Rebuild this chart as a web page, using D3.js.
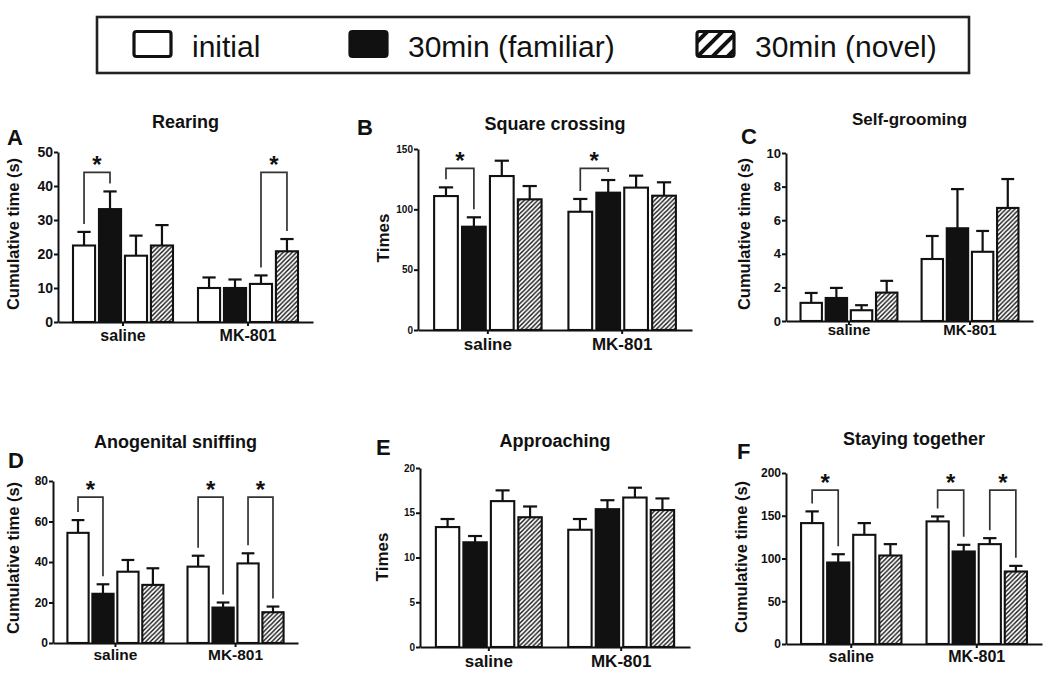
<!DOCTYPE html>
<html>
<head>
<meta charset="utf-8">
<script src="https://cdn.jsdelivr.net/npm/d3@7/dist/d3.min.js"></script>
<style>
  html, body { margin: 0; padding: 0; background: #fff; }
  svg { display: block; font-family: "Liberation Sans", Arial, sans-serif; }
</style>
</head>
<body>
<svg id="chart" width="1050" height="677"></svg>
<script>
// ---------------- DATA ----------------
const groups = ["saline", "MK-801"];
const seriesKeys = ["initial (familiar)", "30min (familiar)", "initial (novel)", "30min (novel)"];
const legendLabels = ["initial", "30min (familiar)", "30min (novel)"];

// A: Rearing
const rearingMean = [[22.5, 33.2, 19.5, 22.5], [10.0, 10.0, 11.2, 20.8]];
const rearingSem  = [[4.0, 5.2, 5.9, 6.0], [3.1, 2.5, 2.5, 3.6]];
const rearingTicks = [0, 10, 20, 30, 40, 50];
const rearingBrackets = [[0, 0, 1, 44], [1, 2, 3, 44]];

// B: Square crossing
const crossingMean = [[111, 85.6, 127.6, 108.3], [98, 113.8, 118, 111.3]];
const crossingSem  = [[7.2, 7.8, 12.7, 11.0], [10.6, 10.5, 9.9, 11.1]];
const crossingTicks = [0, 50, 100, 150];
const crossingBrackets = [[0, 0, 1, 134], [1, 0, 1, 134]];

// C: Self-grooming
const groomingMean = [[1.08, 1.37, 0.64, 1.69], [3.69, 5.52, 4.12, 6.73]];
const groomingSem  = [[0.59, 0.60, 0.30, 0.70], [1.37, 2.33, 1.24, 1.72]];
const groomingTicks = [0, 2, 4, 6, 8, 10];
const groomingBrackets = [];

// D: Anogenital sniffing
const sniffingMean = [[54.4, 24.3, 35.2, 28.7], [37.7, 17.5, 39.3, 15.2]];
const sniffingSem  = [[6.3, 4.7, 5.8, 8.2], [5.4, 2.5, 5.0, 2.8]];
const sniffingTicks = [0, 20, 40, 60, 80];
const sniffingBrackets = [[0, 0, 1, 72], [1, 0, 1, 72], [1, 2, 3, 72]];

// E: Approaching
const approachMean = [[13.4, 11.7, 16.3, 14.5], [13.1, 15.4, 16.7, 15.3]];
const approachSem  = [[0.9, 0.7, 1.2, 1.2], [1.2, 1.0, 1.1, 1.3]];
const approachTicks = [0, 5, 10, 15, 20];
const approachBrackets = [];

// F: Staying together
const togetherMean = [[141.4, 95.3, 127.7, 103.5], [143.4, 108.2, 116.8, 84.8]];
const togetherSem  = [[13.7, 9.7, 13.7, 13.3], [5.8, 7.8, 7.0, 6.6]];
const togetherTicks = [0, 50, 100, 150, 200];
const togetherBrackets = [[0, 0, 1, 180], [1, 0, 1, 180], [1, 2, 3, 180]];

// ---------------- LAYOUT ----------------
const panels = [
  { letter: "A", title: "Rearing", yLabel: "Cumulative time (s)", mean: rearingMean, sem: rearingSem, ticks: rearingTicks, brackets: rearingBrackets,
    x0: 58, x1: 313, yTop: 152, yBot: 322, titleY: 128, titleSize: 18, letterX: 7, letterY: 145,
    yLabX: 19, yLabY: 234, yLabSize: 16.5, tickSize: 14, catSize: 16, catY: 341 },
  { letter: "B", title: "Square crossing", yLabel: "Times", mean: crossingMean, sem: crossingSem, ticks: crossingTicks, brackets: crossingBrackets,
    x0: 418, x1: 692, yTop: 149, yBot: 330, titleY: 130, titleSize: 18, letterX: 357, letterY: 135,
    yLabX: 389, yLabY: 238, yLabSize: 17, tickSize: 10, catSize: 17, catY: 350 },
  { letter: "C", title: "Self-grooming", yLabel: "Cumulative time (s)", mean: groomingMean, sem: groomingSem, ticks: groomingTicks, brackets: groomingBrackets,
    x0: 786, x1: 1033, yTop: 153, yBot: 321, titleY: 125, titleSize: 17, letterX: 741, letterY: 144,
    yLabX: 750, yLabY: 234, yLabSize: 16.5, tickSize: 13, catSize: 15, catY: 335 },
  { letter: "D", title: "Anogenital sniffing", yLabel: "Cumulative time (s)", mean: sniffingMean, sem: sniffingSem, ticks: sniffingTicks, brackets: sniffingBrackets,
    x0: 53, x1: 298, yTop: 481, yBot: 643, titleY: 448, titleSize: 18, letterX: 8, letterY: 468,
    yLabX: 19, yLabY: 558, yLabSize: 16.5, tickSize: 12, catSize: 15.5, catY: 660 },
  { letter: "E", title: "Approaching", yLabel: "Times", mean: approachMean, sem: approachSem, ticks: approachTicks, brackets: approachBrackets,
    x0: 420, x1: 690, yTop: 468, yBot: 647, titleY: 447, titleSize: 18, letterX: 376, letterY: 455,
    yLabX: 388, yLabY: 557, yLabSize: 17, tickSize: 10, catSize: 17, catY: 667 },
  { letter: "F", title: "Staying together", yLabel: "Cumulative time (s)", mean: togetherMean, sem: togetherSem, ticks: togetherTicks, brackets: togetherBrackets,
    x0: 786, x1: 1042, yTop: 473, yBot: 644, titleY: 445, titleSize: 18, letterX: 737, letterY: 459,
    yLabX: 747, yLabY: 557, yLabSize: 16.5, tickSize: 12, catSize: 16, catY: 662 }
];

const ink = "#111";
const svg = d3.select("#chart");
const defs = svg.append("defs");

// hatch pattern for bars
const hp = defs.append("pattern").attr("id", "hatch").attr("patternUnits", "userSpaceOnUse")
  .attr("width", 4.5).attr("height", 4.5);
hp.append("rect").attr("width", 4.5).attr("height", 4.5).attr("fill", "#fff");
hp.append("path").attr("d", "M0,4.5 L4.5,0 M-1,1 L1,-1 M3.5,5.5 L5.5,3.5")
  .attr("stroke", ink).attr("stroke-width", 1.4);

// hatch pattern for legend
const hl = defs.append("pattern").attr("id", "hatchLegend").attr("patternUnits", "userSpaceOnUse")
  .attr("width", 15).attr("height", 15).attr("x", 4).attr("y", 0);
hl.append("rect").attr("width", 15).attr("height", 15).attr("fill", "#fff");
hl.append("path").attr("d", "M0,15 L15,0 M-2,2 L2,-2 M13,17 L17,13")
  .attr("stroke", ink).attr("stroke-width", 4);

const fills = ["#fff", ink, "#fff", "url(#hatch)"];

// ---------------- LEGEND ----------------
const lg = svg.append("g");
lg.append("rect").attr("x", 97).attr("y", 17).attr("width", 872).attr("height", 56)
  .attr("fill", "#fff").attr("stroke", "#222").attr("stroke-width", 2.6);
const legendItems = [
  { label: legendLabels[0], fill: "#fff", x: 134, tx: 192 },
  { label: legendLabels[1], fill: ink, x: 350, tx: 408 },
  { label: legendLabels[2], fill: "url(#hatchLegend)", x: 697, tx: 755 }
];
legendItems.forEach(d => {
  lg.append("rect").attr("x", d.x).attr("y", 31.5).attr("width", 37).attr("height", 25)
    .attr("rx", 2.5).attr("fill", d.fill).attr("stroke", ink).attr("stroke-width", 3.2);
  lg.append("text").attr("x", d.tx).attr("y", 57).attr("font-size", 30)
    .attr("fill", ink).text(d.label);
});

// ---------------- PANELS ----------------
panels.forEach(p => {
  const g = svg.append("g");
  const maxV = p.ticks[p.ticks.length - 1];
  const y = d3.scaleLinear().domain([0, maxV]).range([p.yBot, p.yTop]);
  const xg = d3.scaleBand().domain(groups).range([p.x0, p.x1]).paddingInner(0.2).paddingOuter(0.12);
  const xs = d3.scaleBand().domain(seriesKeys).range([0, xg.bandwidth()]).paddingInner(0.15);

  // title + letter
  g.append("text").attr("x", (p.x0 + p.x1) / 2).attr("y", p.titleY).attr("text-anchor", "middle")
    .attr("font-size", p.titleSize).attr("font-weight", "bold").attr("fill", ink).text(p.title);
  g.append("text").attr("x", p.letterX).attr("y", p.letterY)
    .attr("font-size", 22).attr("font-weight", "bold").attr("fill", ink).text(p.letter);

  // y label
  g.append("text").attr("transform", `translate(${p.yLabX},${p.yLabY}) rotate(-90)`)
    .attr("text-anchor", "middle").attr("font-size", p.yLabSize).attr("font-weight", "bold")
    .attr("fill", ink).text(p.yLabel);

  // bars
  groups.forEach((grp, gi) => {
    seriesKeys.forEach((s, si) => {
      const v = p.mean[gi][si], e = p.sem[gi][si];
      const bx = xg(grp) + xs(s), bw = xs.bandwidth();
      const cx = bx + bw / 2;
      // error bar
      g.append("line").attr("x1", cx).attr("x2", cx).attr("y1", y(v)).attr("y2", y(v + e))
        .attr("stroke", ink).attr("stroke-width", 2.2);
      g.append("line").attr("x1", cx - bw * 0.3).attr("x2", cx + bw * 0.3).attr("y1", y(v + e)).attr("y2", y(v + e))
        .attr("stroke", ink).attr("stroke-width", 2.2);
      g.append("rect").attr("x", bx).attr("y", y(v)).attr("width", bw).attr("height", y(0) - y(v))
        .attr("fill", fills[si]).attr("stroke", ink).attr("stroke-width", 2.1);
    });
  });

  // brackets
  p.brackets.forEach(b => {
    const [gi, a, c, top] = b;
    const grp = groups[gi];
    const xa = xg(grp) + xs(seriesKeys[a]) + xs.bandwidth() / 2;
    const xc = xg(grp) + xs(seriesKeys[c]) + xs.bandwidth() / 2;
    const la = y(p.mean[gi][a] + p.sem[gi][a]) - 8;
    const lc = y(p.mean[gi][c] + p.sem[gi][c]) - 8;
    const yt = y(top);
    g.append("path").attr("d", `M${xa},${la} V${yt} H${xc} V${lc}`)
      .attr("fill", "none").attr("stroke", "#333").attr("stroke-width", 1.7);
    g.append("text").attr("x", (xa + xc) / 2).attr("y", yt + 1).attr("text-anchor", "middle")
      .attr("font-size", 24).attr("font-weight", "bold").attr("fill", ink).text("*");
  });

  // axes
  const ya = g.append("g").attr("transform", `translate(${p.x0},0)`)
    .call(d3.axisLeft(y).tickValues(p.ticks).tickSize(4).tickSizeOuter(0).tickPadding(1));
  ya.selectAll("path, line").attr("stroke", ink).attr("stroke-width", 2);
  ya.selectAll("text").attr("font-size", p.tickSize).attr("font-weight", "bold").attr("fill", ink)
    .attr("font-family", "Liberation Sans, Arial, sans-serif");

  const xa = g.append("g").attr("transform", `translate(0,${p.yBot})`)
    .call(d3.axisBottom(xg).tickSize(4).tickSizeOuter(0).tickPadding(0));
  xa.selectAll("path, line").attr("stroke", ink).attr("stroke-width", 2);
  xa.selectAll("text").attr("font-size", p.catSize).attr("font-weight", "bold").attr("fill", ink)
    .attr("font-family", "Liberation Sans, Arial, sans-serif")
    .attr("dy", null).attr("y", p.catY - p.yBot);
});
</script>
</body>
</html>
